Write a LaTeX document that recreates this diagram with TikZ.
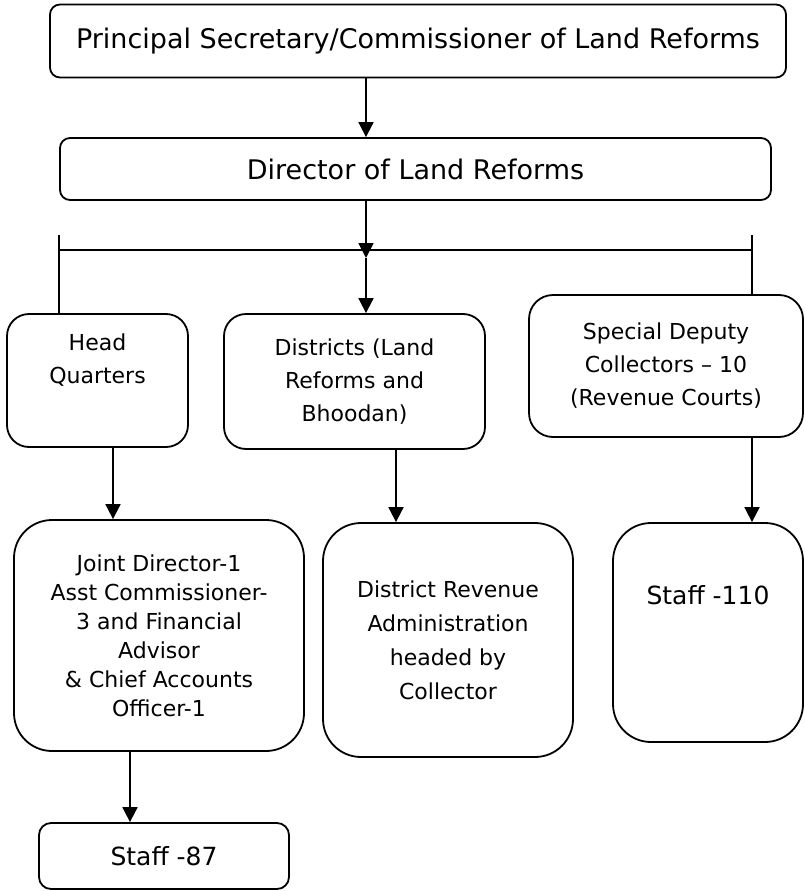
\documentclass[tikz,border=0pt]{standalone}
\usepackage{fontspec}
\setmainfont{DejaVu Sans}
\usetikzlibrary{arrows.meta}

\tikzset{
  office/.style={draw, rounded corners=#1, align=center, inner sep=0pt},
  bigtext/.style={font=\fontsize{27}{32}\selectfont},
  boxtext/.style={font=\fontsize{22}{33}\selectfont},
}

\begin{document}
\begin{tikzpicture}[x=1pt, y=-1pt, >={Triangle[length=15pt,width=15pt]}, line width=1.8pt]
  \useasboundingbox (0,0) rectangle (804,891);

  % top two levels
  \node[office=10pt, bigtext, minimum width=736pt, minimum height=73pt] (comm) at (418,41)
    {Principal Secretary/Commissioner of Land Reforms};
  \node[office=10pt, bigtext, minimum width=711pt, minimum height=62pt] (dir) at (415.5,169)
    {Director of Land Reforms};

  % second level
  \node[office=22pt, boxtext, minimum width=181pt, minimum height=133pt] (hq) at (97.5,380.5)
    {Head\\Quarters\\ \strut};
  \node[office=22pt, boxtext, minimum width=261pt, minimum height=135pt] (dist) at (354.5,381.5)
    {Districts (Land\\Reforms and\\Bhoodan)};
  \node[office=24pt, boxtext, minimum width=274pt, minimum height=142pt] (sdc) at (666,366)
    {Special Deputy\\Collectors – 10\\(Revenue Courts)};

  % third level
  \node[office=38pt, font=\fontsize{22}{29}\selectfont, minimum width=290pt, minimum height=231pt] (jd) at (159,635.5)
    {Joint Director-1\\Asst Commissioner-\\3 and Financial\\Advisor\\\& Chief Accounts\\Officer-1};
  \node[office=38pt, font=\fontsize{22}{34}\selectfont, minimum width=250pt, minimum height=234pt] (dra) at (448,640)
    {District Revenue\\Administration\\headed by\\Collector};
  \node[office=38pt, font=\fontsize{25}{33}\selectfont, minimum width=190pt, minimum height=219pt] (sf110) at (708,632.5)
    {Staff -110\\ \strut\\ \strut};
  \node[office=12pt, font=\fontsize{25}{29}\selectfont, minimum width=250pt, minimum height=66pt] (sf87) at (164,856)
    {Staff -87};

  % connector columns
  \coordinate (spine) at (366,0);
  \coordinate (hub) at (366,258);
  \coordinate (barL) at (59,250);
  \coordinate (barR) at (752,250);
  \coordinate (c1) at (113,0);
  \coordinate (c2) at (396,0);
  \coordinate (c0) at (130,0);

  \draw[->] (comm.south -| spine) -- (dir.north -| spine);
  \draw[->] (dir.south -| spine) -- (hub);
  \draw (barL) -- (barR);
  \draw ([yshift=15pt]barL) -- (hq.north -| barL);
  \draw ([yshift=15pt]barR) -- (sdc.north -| barR);
  \draw[->] (hub) -- (dist.north -| spine);

  \draw[->] (hq.south -| c1) -- (jd.north -| c1);
  \draw[->] (dist.south -| c2) -- (dra.north -| c2);
  \draw[->] (sdc.south -| barR) -- (sf110.north -| barR);
  \draw[->] (jd.south -| c0) -- (sf87.north -| c0);
\end{tikzpicture}
\end{document}
